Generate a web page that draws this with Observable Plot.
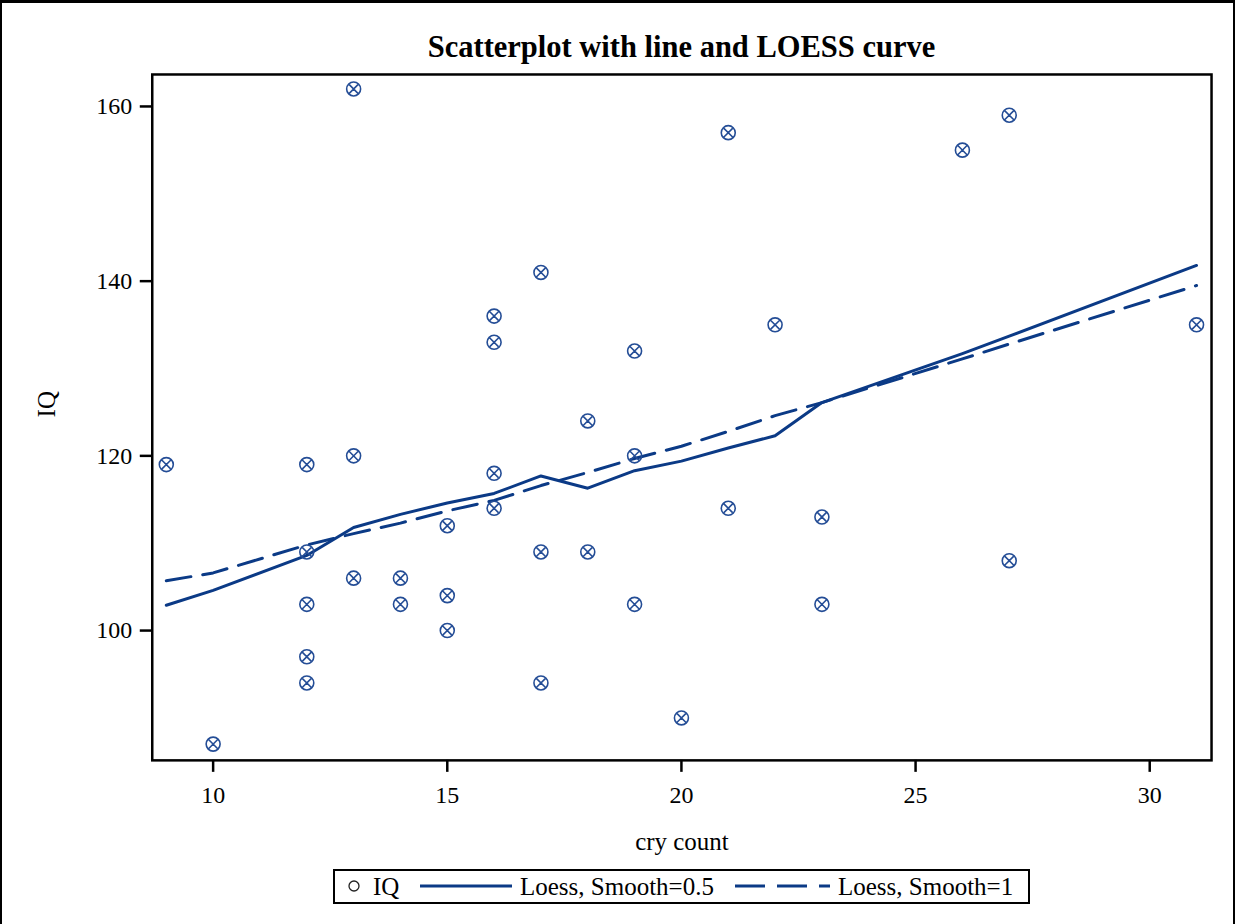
<!DOCTYPE html>
<html>
<head>
<meta charset="utf-8">
<script src="https://cdn.jsdelivr.net/npm/d3@7"></script>
<script src="https://cdn.jsdelivr.net/npm/@observablehq/plot@0.6"></script>
<style>
  html, body { margin: 0; padding: 0; background: #fff; }
  #wrap { position: relative; width: 1231px; height: 924px; border-left: 2px solid #000; border-right: 2px solid #000; border-top: 3px solid #000; box-sizing: content-box; overflow: hidden; font-family: "Liberation Serif", "Times New Roman", serif; }
  #title { position: absolute; left: 0; width: 1231px; top: 26px; padding-left: 128px; box-sizing: border-box; text-align: center; font-weight: bold; font-size: 30.5px; line-height: 36px; color: #000; }
  #chart { position: absolute; left: -2px; top: 60px; }
  #legend { position: absolute; left: 331px; top: 866px; width: 693px; height: 31px; border: 2px solid #000; font-size: 25px; color: #000; }
  #legend > * { position: absolute; }
  #legend span { top: 1px; line-height: 30px; white-space: nowrap; }
  #legend svg { display: block; }
</style>
</head>
<body>
<div id="wrap">
  <div id="title">Scatterplot with line and LOESS curve</div>
  <div id="chart"></div>
  <div id="legend">
    <svg width="14" height="14" style="left:12px; top:8px;"><circle cx="7" cy="7" r="5" fill="none" stroke="#222" stroke-width="1.3"/></svg>
    <span style="left:38px;">IQ</span>
    <svg width="92" height="8" style="left:85px; top:11px;"><line x1="0" y1="4" x2="92" y2="4" stroke="#0b3a86" stroke-width="3"/></svg>
    <span style="left:185px;">Loess, Smooth=0.5</span>
    <svg width="95" height="8" style="left:400px; top:11px;"><line x1="0" y1="4" x2="95" y2="4" stroke="#0b3a86" stroke-width="3" stroke-dasharray="30,12"/></svg>
    <span style="left:503px;">Loess, Smooth=1</span>
  </div>
</div>
<script>
// ---- data ----
const cryCount = [9, 10, 12, 12, 12, 12, 12, 13, 13, 13, 14, 14, 15, 15, 15, 16, 16, 16, 16, 17, 17, 17, 18, 18, 19, 19, 19, 20, 21, 21, 22, 23, 23, 26, 27, 27, 31];
const iq       = [119, 87, 119, 109, 103, 97, 94, 162, 120, 106, 106, 103, 112, 104, 100, 136, 133, 118, 114, 141, 109, 94, 124, 109, 132, 120, 103, 90, 157, 114, 135, 113, 103, 155, 159, 108, 135];

const loessX    = [9, 10, 12, 13, 14, 15, 16, 17, 18, 19, 20, 21, 22, 23, 26, 27, 31];
const loess05   = [102.9, 104.6, 108.6, 111.8, 113.3, 114.6, 115.7, 117.7, 116.3, 118.3, 119.4, 120.9, 122.3, 126.1, 131.7, 133.7, 141.8];
const loess1    = [105.7, 106.6, 109.8, 111.1, 112.3, 113.7, 114.9, 116.6, 118.1, 119.7, 121.1, 122.8, 124.6, 126.1, 131.1, 132.8, 139.5];

const xTicks = [10, 15, 20, 25, 30];
const yTicks = [100, 120, 140, 160];

const points = cryCount.map((x, i) => ({x, y: iq[i]}));
const curve05 = loessX.map((x, i) => ({x, y: loess05[i]}));
const curve1 = loessX.map((x, i) => ({x, y: loess1[i]}));

const circleX = {
  draw(context, size) {
    const r = Math.sqrt(size / Math.PI);
    context.moveTo(r, 0);
    context.arc(0, 0, r, 0, 2 * Math.PI);
    const d = r * 0.62;
    context.moveTo(-d, -d); context.lineTo(d, d);
    context.moveTo(d, -d); context.lineTo(-d, d);
  }
};

const lineColor = "#0b3a86";
const markColor = "#244d96";

const chart = Plot.plot({
  width: 1235,
  height: 800,
  marginTop: 11,
  marginBottom: 102,
  marginLeft: 152,
  marginRight: 22,
  style: { fontFamily: "Liberation Serif, serif", fontSize: "24px", background: "transparent", color: "#000" },
  x: { domain: [8.7, 31.32] },
  y: { domain: [85.14, 163.66] },
  marks: [
    Plot.line(curve05, { x: "x", y: "y", stroke: lineColor, strokeWidth: 3 }),
    Plot.line(curve1, { x: "x", y: "y", stroke: lineColor, strokeWidth: 3, strokeDasharray: "25,12" }),
    Plot.dot(points, { x: "x", y: "y", symbol: circleX, r: 7, stroke: markColor, strokeWidth: 1.6, fill: "none" }),
    Plot.frame({ stroke: "#000", strokeWidth: 2.5 }),
    Plot.axisX({ ticks: xTicks, tickSize: 12, tickPadding: 14, strokeWidth: 2.5, tickFormat: d => String(d), label: null, fontSize: 24 }),
    Plot.axisY({ ticks: yTicks, tickSize: 12, tickPadding: 8, strokeWidth: 2.5, tickFormat: d => String(d), label: null, fontSize: 24 }),
    Plot.text(["cry count"], { frameAnchor: "bottom", dy: 90, text: d => d, fontSize: 25 }),
    Plot.text(["IQ"], { frameAnchor: "left", dx: -105, text: d => d, rotate: -90, fontSize: 25 })
  ]
});
document.getElementById("chart").appendChild(chart);
</script>
</body>
</html>
